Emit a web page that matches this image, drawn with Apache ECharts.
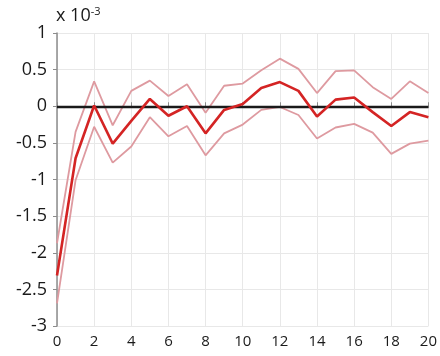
<!DOCTYPE html>
<html><head><meta charset="utf-8">
<script src="https://cdn.jsdelivr.net/npm/echarts@6/dist/echarts.min.js"></script>
<style>html,body{margin:0;padding:0;background:#fff}#c{width:440px;height:356px}</style>
</head><body><div id="c"></div>
<script>
const steps = [0,1,2,3,4,5,6,7,8,9,10,11,12,13,14,15,16,17,18,19,20];
const center = [-2.31,-0.71,0.01,-0.51,-0.20,0.10,-0.13,0.00,-0.37,-0.05,0.03,0.25,0.33,0.21,-0.14,0.09,0.12,-0.08,-0.27,-0.08,-0.15];
const upper = [-1.87,-0.35,0.34,-0.26,0.21,0.35,0.14,0.30,-0.09,0.28,0.31,0.49,0.65,0.51,0.18,0.48,0.49,0.26,0.10,0.34,0.18];
const lower = [-2.69,-1.01,-0.28,-0.77,-0.55,-0.15,-0.41,-0.27,-0.67,-0.37,-0.25,-0.05,-0.01,-0.12,-0.44,-0.29,-0.24,-0.36,-0.65,-0.51,-0.47];
const yTicks = [-3,-2.5,-2,-1.5,-1,-0.5,0,0.5,1];
const xTicks = [0,2,4,6,8,10,12,14,16,18,20];

const pair = a => steps.map((s,i)=>[s,a[i]]);
const chart = echarts.init(document.getElementById('c'), null, {renderer:'canvas'});
const font = '"Open Sans", sans-serif';
chart.setOption({
  animation:false,
  grid:{left:57,right:10,top:33,bottom:30},
  graphic:[{type:'text',left:56,top:6,style:{
    text:'{a|x 10}{s|-3}',
    rich:{a:{fontSize:18,fontFamily:font,fill:'#1a1a1a'},s:{fontSize:11,fontFamily:font,fill:'#1a1a1a',verticalAlign:'top',padding:[0,0,8,0]}}
  }}],
  xAxis:{type:'value',min:xTicks[0],max:xTicks[xTicks.length-1],interval:2,
    axisLine:{lineStyle:{color:'#8c8c8c',width:1.5}},
    axisTick:{inside:true,length:4,lineStyle:{color:'#8c8c8c'}},
    axisLabel:{fontSize:15,fontFamily:font,color:'#1a1a1a',margin:8},
    splitLine:{show:true,lineStyle:{color:'#e8e8e8'}}},
  yAxis:{type:'value',min:yTicks[0],max:yTicks[yTicks.length-1],interval:0.5,
    axisLine:{show:true,lineStyle:{color:'#8c8c8c',width:1.5}},
    axisTick:{show:true,length:4,lineStyle:{color:'#8c8c8c'}},
    axisLabel:{fontSize:18,fontFamily:font,color:'#1a1a1a',margin:10},
    splitLine:{show:true,lineStyle:{color:'#e8e8e8'}}},
  series:[
    {type:'line',data:pair(upper),symbol:'none',lineStyle:{color:'#de9aa0',width:1.8},z:2},
    {type:'line',data:pair(lower),symbol:'none',lineStyle:{color:'#de9aa0',width:1.8},z:2},
    {type:'line',data:pair(center),symbol:'none',lineStyle:{color:'#d42424',width:2.6},z:4,
      markLine:{silent:true,symbol:'none',label:{show:false},lineStyle:{color:'#1a1a1a',width:2.4,type:'solid'},data:[{yAxis:0}],z:3}}
  ]
});
</script></body></html>
